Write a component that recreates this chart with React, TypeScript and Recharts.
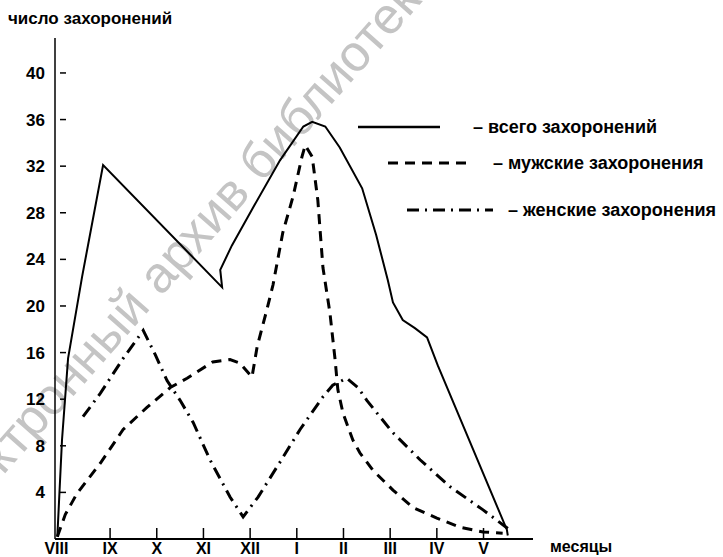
import React from 'react';
import { LineChart, Line, XAxis, YAxis, Legend } from 'recharts';

// месяцы с августа по май
const MONTHS = ['VIII', 'IX', 'X', 'XI', 'XII', 'I', 'II', 'III', 'IV', 'V'];
const MONTH_TICKS = [0, 1, 2, 3, 4, 5, 6, 7, 8, 9];
const COUNT_TICKS = [4, 8, 12, 16, 20, 24, 28, 32, 36, 40];

// m — позиция по месяцам (0 = VIII), n — число захоронений
const totalBurials = [
  { m: -0.13, n: 0.2 }, { m: -0.03, n: 8.5 }, { m: 0.1, n: 15.5 }, { m: 0.4, n: 22.5 },
  { m: 0.85, n: 32.1 }, { m: 3.4, n: 21.6 }, { m: 3.36, n: 23.1 }, { m: 3.61, n: 25.2 },
  { m: 4.1, n: 28.7 }, { m: 4.64, n: 32.5 }, { m: 5.14, n: 35.4 }, { m: 5.33, n: 35.8 },
  { m: 5.61, n: 35.4 }, { m: 5.92, n: 33.6 }, { m: 6.4, n: 30.1 }, { m: 6.7, n: 26.1 },
  { m: 6.95, n: 22.2 }, { m: 7.06, n: 20.3 }, { m: 7.27, n: 18.8 }, { m: 7.53, n: 18.1 },
  { m: 7.79, n: 17.3 }, { m: 8.02, n: 14.9 }, { m: 9.5, n: 0.8 }, { m: 9.52, n: 0.3 },
];

const maleBurials = [
  { m: -0.13, n: 0.2 }, { m: 0.04, n: 2.1 }, { m: 0.29, n: 3.9 }, { m: 0.79, n: 6.5 },
  { m: 1.28, n: 9.4 }, { m: 1.79, n: 11.3 }, { m: 2.29, n: 13.0 }, { m: 2.65, n: 13.8 },
  { m: 3.2, n: 15.2 }, { m: 3.57, n: 15.4 }, { m: 3.78, n: 15.1 }, { m: 4.04, n: 13.9 },
  { m: 4.15, n: 16.5 }, { m: 4.36, n: 19.7 }, { m: 4.49, n: 21.8 }, { m: 4.7, n: 26.3 },
  { m: 4.92, n: 29.4 }, { m: 5.11, n: 32.8 }, { m: 5.18, n: 33.8 }, { m: 5.33, n: 32.8 },
  { m: 5.45, n: 29.1 }, { m: 5.56, n: 23.3 }, { m: 5.71, n: 19.4 }, { m: 5.82, n: 15.4 },
  { m: 5.88, n: 12.8 }, { m: 5.99, n: 10.8 }, { m: 6.2, n: 8.5 }, { m: 6.35, n: 7.4 },
  { m: 6.63, n: 5.9 }, { m: 7.06, n: 4.2 }, { m: 7.49, n: 2.7 }, { m: 8.0, n: 1.8 },
  { m: 8.5, n: 1.0 }, { m: 8.99, n: 0.6 }, { m: 9.41, n: 0.5 },
];

const femaleBurials = [
  { m: 0.42, n: 10.5 }, { m: 0.79, n: 12.5 }, { m: 1.28, n: 15.5 }, { m: 1.71, n: 17.9 },
  { m: 1.97, n: 15.8 }, { m: 2.22, n: 13.6 }, { m: 2.5, n: 11.9 }, { m: 2.78, n: 10.0 },
  { m: 3.14, n: 6.8 }, { m: 3.57, n: 3.6 }, { m: 3.85, n: 1.9 }, { m: 4.17, n: 3.6 },
  { m: 4.64, n: 6.6 }, { m: 5.07, n: 9.4 }, { m: 5.56, n: 12.2 }, { m: 5.77, n: 13.2 },
  { m: 6.07, n: 13.8 }, { m: 6.31, n: 13.0 }, { m: 6.5, n: 11.9 }, { m: 7.04, n: 9.2 },
  { m: 7.64, n: 6.8 }, { m: 8.28, n: 4.5 }, { m: 8.99, n: 2.5 }, { m: 9.52, n: 0.9 },
];

const FONT = '"Liberation Sans", Arial, sans-serif';
const DASHED = '10 7';
const DASH_DOT = '12 6 2 6';

const MonthTick = (props: any) => {
  const { x, y, payload } = props;
  const first = payload.value === 0;
  return (
    <g>
      {!first && <line x1={x} x2={x} y1={y - 11} y2={y} stroke="#000" strokeWidth={1.5} />}
      <text x={first ? x - 7 : x} y={y + 15} textAnchor="middle" fontFamily={FONT}
        fontWeight="bold" fontSize={16} fill="#000">
        {MONTHS[payload.value]}
      </text>
    </g>
  );
};

const CountTick = (props: any) => {
  const { x, y, payload } = props;
  return (
    <g>
      <text x={x} y={y + 6} textAnchor="end" fontFamily={FONT} fontWeight="bold"
        fontSize={17} fill="#000">
        {payload.value}
      </text>
      <line x1={x + 15} x2={x + 21} y1={y} y2={y} stroke="#000" strokeWidth={1.5} />
    </g>
  );
};

const renderLegend = () => (
  <svg width={723} height={230} style={{ display: 'block' }}>
    <g fontFamily={FONT} fontWeight="bold" fontSize={18} fill="#000">
      <line x1={358} x2={440} y1={127} y2={127} stroke="#000" strokeWidth={2.5} />
      <text x={473} y={133}>– всего захоронений</text>
      <line x1={388} x2={470} y1={163} y2={163} stroke="#000" strokeWidth={3} strokeDasharray={DASHED} />
      <text x={493} y={169}>– мужские захоронения</text>
      <line x1={407} x2={493} y1={210} y2={210} stroke="#000" strokeWidth={3} strokeDasharray={DASH_DOT} />
      <text x={508} y={216}>– женские захоронения</text>
    </g>
  </svg>
);

export default function App() {
  return (
    <div style={{ position: 'relative', width: 723, height: 557, background: '#fff', overflow: 'hidden' }}>
      <style>{'body{margin:0}'}</style>
      <svg width={723} height={557} style={{ position: 'absolute', left: 0, top: 0 }}>
        <text x={-52} y={538} transform="rotate(-48.5 -52 538)" fontFamily={FONT}
          fontSize={51} fill="#c4c4c4">
          электронный архив библиотеки
        </text>
      </svg>
      <div style={{ position: 'absolute', left: 0, top: 0 }}>
        <LineChart width={723} height={557} margin={{ top: 38, right: 190, bottom: 0, left: 0 }}>
          <XAxis type="number" dataKey="m" domain={[-0.18, 10.06]} ticks={MONTH_TICKS}
            interval={0} height={18} tickSize={0} tickMargin={0} tick={MonthTick}
            axisLine={{ stroke: '#000', strokeWidth: 2 }} allowDataOverflow />
          <YAxis type="number" domain={[0, 43]} ticks={COUNT_TICKS} interval={0} width={55}
            tickSize={0} tickMargin={10} tick={CountTick}
            axisLine={{ stroke: '#000', strokeWidth: 1.5 }} allowDataOverflow />
          <Legend layout="horizontal" verticalAlign="middle" align="center"
            content={renderLegend} wrapperStyle={{ left: 0, top: 0, width: 723, height: 230 }} />
          <Line data={totalBurials} dataKey="n" name="всего захоронений" type="linear"
            stroke="#000" strokeWidth={2} dot={false} isAnimationActive={false} />
          <Line data={maleBurials} dataKey="n" name="мужские захоронения" type="linear"
            stroke="#000" strokeWidth={3} strokeDasharray={DASHED} dot={false}
            isAnimationActive={false} />
          <Line data={femaleBurials} dataKey="n" name="женские захоронения" type="linear"
            stroke="#000" strokeWidth={3} strokeDasharray={DASH_DOT} dot={false}
            isAnimationActive={false} />
        </LineChart>
      </div>
      <svg width={723} height={557} style={{ position: 'absolute', left: 0, top: 0, pointerEvents: 'none' }}>
        <g fontFamily={FONT} fontWeight="bold" fill="#000">
          <text x={8} y={24} fontSize={17}>число захоронений</text>
          <text x={550} y={552} fontSize={16}>месяцы</text>
        </g>
      </svg>
    </div>
  );
}
